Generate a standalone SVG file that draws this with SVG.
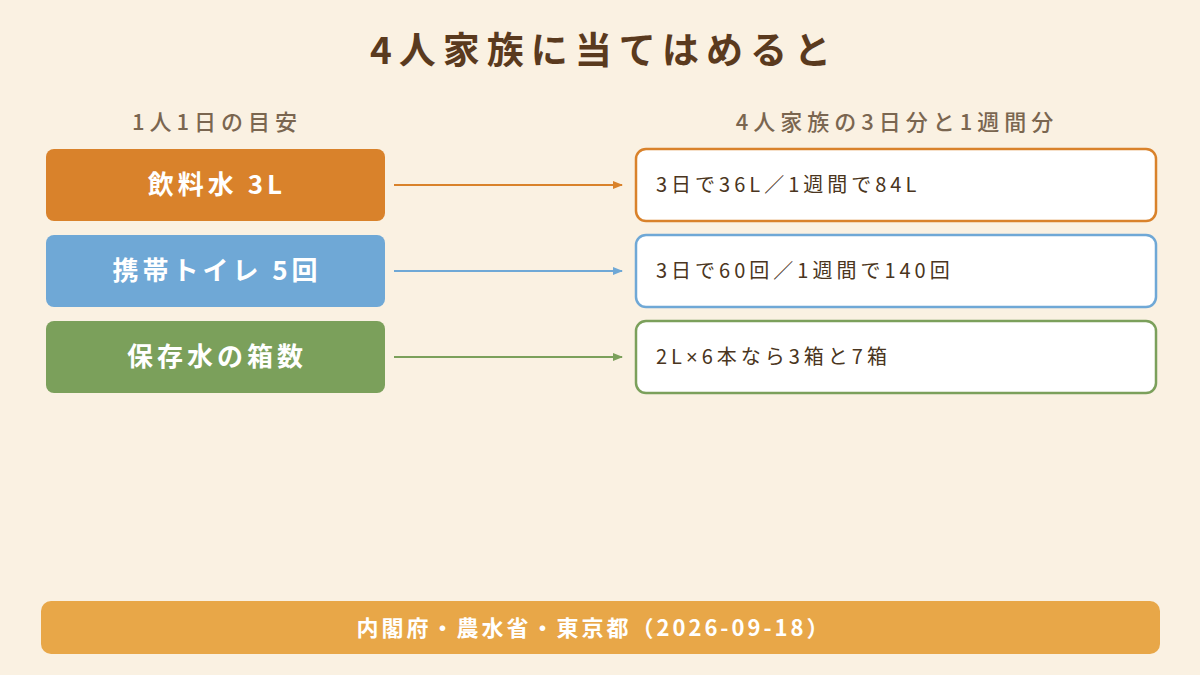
<svg xmlns="http://www.w3.org/2000/svg" width="1200" height="675" viewBox="0 0 1200 675">
<style>
text{font-family:"Noto Sans CJK JP","Noto Sans",sans-serif}
.t{font-size:37px;font-weight:bold;fill:#5a3a1e;letter-spacing:7px}
.h{font-size:22px;fill:#7a6650;font-weight:500;letter-spacing:5px}
.l{font-size:26px;font-weight:bold;fill:#fff;letter-spacing:4px}
.r{font-size:20px;fill:#4a3520;letter-spacing:4px}
.rb{fill:#fff;stroke-width:2.5}
</style>
<defs>
<marker id="ao" markerWidth="10" markerHeight="10" refX="9" refY="5" orient="auto" markerUnits="userSpaceOnUse"><path d="M0,1 L10,5 L0,9z" fill="#d9822b"/></marker>
<marker id="ab" markerWidth="10" markerHeight="10" refX="9" refY="5" orient="auto" markerUnits="userSpaceOnUse"><path d="M0,1 L10,5 L0,9z" fill="#6fa8d6"/></marker>
<marker id="ag" markerWidth="10" markerHeight="10" refX="9" refY="5" orient="auto" markerUnits="userSpaceOnUse"><path d="M0,1 L10,5 L0,9z" fill="#7ba05b"/></marker>
</defs>
<rect width="1200" height="675" fill="#faf1e2"/>
<text class="t" x="604" y="64" text-anchor="middle">4人家族に当てはめると</text>
<text class="h" x="217" y="130" text-anchor="middle">1人1日の目安</text>
<text class="h" x="897" y="130" text-anchor="middle">4人家族の3日分と1週間分</text>
<g id="n1"><rect x="46" y="149" width="339" height="72" rx="8" fill="#d9822b"/><text class="l" x="217" y="194" text-anchor="middle">飲料水 3L</text></g>
<g id="n2"><rect x="46" y="235" width="339" height="72" rx="8" fill="#6fa8d6"/><text class="l" x="217" y="280" text-anchor="middle">携帯トイレ 5回</text></g>
<g id="n3"><rect x="46" y="321" width="339" height="72" rx="8" fill="#7ba05b"/><text class="l" x="217" y="366" text-anchor="middle">保存水の箱数</text></g>
<g id="r1"><rect class="rb" x="636" y="149" width="520" height="72" rx="10" stroke="#d9822b"/><text class="r" x="656" y="192">3日で36L／1週間で84L</text></g>
<g id="r2"><rect class="rb" x="636" y="235" width="520" height="72" rx="10" stroke="#6fa8d6"/><text class="r" x="656" y="278">3日で60回／1週間で140回</text></g>
<g id="r3"><rect class="rb" x="636" y="321" width="520" height="72" rx="10" stroke="#7ba05b"/><text class="r" x="656" y="364">2L<tspan font-family="Liberation Sans">×</tspan>6本なら3箱と7箱</text></g>
<g id="connectors" stroke-width="2">
<line x1="394" y1="185" x2="622" y2="185" stroke="#d9822b" marker-end="url(#ao)"/>
<line x1="394" y1="271" x2="622" y2="271" stroke="#6fa8d6" marker-end="url(#ab)"/>
<line x1="394" y1="357" x2="622" y2="357" stroke="#7ba05b" marker-end="url(#ag)"/>
</g>
<g id="footer"><rect x="41" y="601" width="1119" height="53" rx="10" fill="#e8a748"/><text x="594" y="636" text-anchor="middle" font-size="22" font-weight="bold" fill="#fff" letter-spacing="3">内閣府・農水省・東京都（2026-09-18）</text></g>
</svg>
